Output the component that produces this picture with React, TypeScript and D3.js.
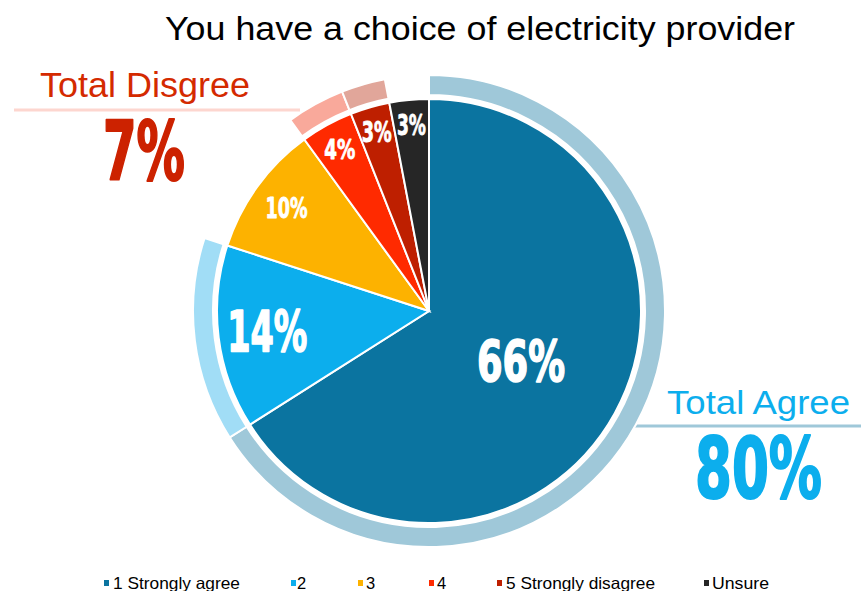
import React from "react";
import * as d3 from "d3";

const categories = ["1 Strongly agree", "2", "3", "4", "5 Strongly disagree", "Unsure"];
const values = [66, 14, 10, 4, 3, 3];
const sliceLabels = ["66%", "14%", "10%", "4%", "3%", "3%"];
const ringGroups = ["agree", "agree", "none", "disagree", "disagree", "none"];
const totals = [
  { name: "Total Disgree", value: "7%" },
  { name: "Total Agree", value: "80%" },
];
const title = "You have a choice of electricity provider";

// styles / layout
const colors = ["#0b74a0", "#0caeed", "#fdb200", "#ff2a00", "#be1f00", "#262626"];
const ringColors = ["#9fc8d9", "#a1ddf6", "none", "#f9a99b", "#e1a69a", "none"];
const labelRadius = [105, 163, 176, 185, 187, 187];
const labelHeight = [41, 42, 21, 20, 21, 21];
const labelWidth = [88, 80, 42, 31, 30, 29];
const legendMarkerX = [104, 291, 358, 429, 497, 704];
const legendTextX = [113, 297, 366, 437, 506, 712];
const legendTextW = [127, 0, 0, 0, 149, 57];

const W = 861;
const H = 591;
const cx = 429;
const cy = 311;
const R = 212;
const ringIn = 216;
const ringOut = 236;

const numFontName = "DejaVu Sans Condensed";
const numFont = "'DejaVu Sans Condensed', 'DejaVu Sans', sans-serif";
const txtFont = "'Liberation Sans', Arial, sans-serif";

let measureCtx: CanvasRenderingContext2D | null = null;
function measure(text: string, size: number): number {
  if (typeof document === "undefined") return text.length * size * 0.6;
  if (!measureCtx) measureCtx = document.createElement("canvas").getContext("2d");
  if (!measureCtx) return text.length * size * 0.6;
  measureCtx.font = `bold ${size}px '${numFontName}', 'DejaVu Sans', sans-serif`;
  return measureCtx.measureText(text).width || text.length * size * 0.6;
}

function NumText(props: {
  x: number;
  y: number;
  w: number;
  h: number;
  fill: string;
  text: string;
  anchor: "start" | "middle";
  weight?: number;
}) {
  const size = props.h / 0.73;
  const natural = measure(props.text, size);
  const sx = props.w / natural;
  return (
    <text
      transform={`translate(${props.x},${props.y}) scale(${sx},1)`}
      textAnchor={props.anchor}
      fontFamily={numFont}
      fontWeight="bold"
      fontSize={size}
      fill={props.fill}
      stroke={props.fill}
      strokeWidth={props.weight ?? 1}
      strokeLinejoin="round"
    >
      {props.text}
    </text>
  );
}

export default function App() {
  const pie = d3.pie<number>().sort(null).value((d) => d)(values);
  const arc = d3.arc<d3.PieArcDatum<number>>().innerRadius(0).outerRadius(R);
  const ringArc = d3
    .arc<d3.PieArcDatum<number>>()
    .innerRadius(ringIn)
    .outerRadius(ringOut);

  return (
    <svg
      width={W}
      height={H}
      style={{ position: "absolute", left: 0, top: 0, background: "#fff" }}
    >
      <text
        x={480}
        y={40}
        textAnchor="middle"
        fontFamily={txtFont}
        fontSize={34}
        fill="#000"
        textLength={630}
        lengthAdjust="spacingAndGlyphs"
      >
        {title}
      </text>

      {/* leader lines */}
      <line x1={14} x2={300} y1={110} y2={110} stroke="#fdd6cf" strokeWidth={3} />
      <line x1={633} x2={861} y1={426} y2={426} stroke="#9fc8d9" strokeWidth={3} />

      <g transform={`translate(${cx},${cy})`}>
        {pie.map((p, i) =>
          ringGroups[i] === "none" ? null : (
            <path
              key={"r" + i}
              d={ringArc(p) || ""}
              fill={ringColors[i]}
              stroke="#fff"
              strokeWidth={2}
            />
          )
        )}
        {pie.map((p, i) => (
          <path
            key={"s" + i}
            d={arc(p) || ""}
            fill={colors[i]}
            stroke="#fff"
            strokeWidth={2}
          />
        ))}
        {pie.map((p, i) => {
          const a = (p.startAngle + p.endAngle) / 2;
          const x = Math.sin(a) * labelRadius[i];
          const y = -Math.cos(a) * labelRadius[i];
          const h = labelHeight[i];
          return (
            <NumText
              key={"l" + i}
              x={x}
              y={y + h / 2}
              w={labelWidth[i]}
              h={h}
              fill="#fff"
              text={sliceLabels[i]}
              anchor="middle"
              weight={h > 30 ? 1.6 : 0.8}
            />
          );
        })}
      </g>

      {/* totals */}
      <text
        x={40}
        y={97}
        fontFamily={txtFont}
        fontSize={35}
        fill="#d42a00"
        textLength={210}
        lengthAdjust="spacingAndGlyphs"
      >
        {totals[0].name}
      </text>
      <NumText x={103} y={180} w={82} h={60} fill="#cc2200" text={totals[0].value} anchor="start" weight={2} />
      <text
        x={667}
        y={414}
        fontFamily={txtFont}
        fontSize={34}
        fill="#0caeed"
        textLength={183}
        lengthAdjust="spacingAndGlyphs"
      >
        {totals[1].name}
      </text>
      <NumText x={695} y={498} w={127} h={61} fill="#0caeed" text={totals[1].value} anchor="start" weight={2} />

      {/* legend */}
      {categories.map((c, i) => (
        <g key={"lg" + i}>
          <rect x={legendMarkerX[i]} y={580} width={5} height={6} fill={colors[i]} />
          <text
            x={legendTextX[i]}
            y={589}
            fontFamily={txtFont}
            fontSize={16.5}
            fill="#000"
            {...(legendTextW[i] > 0
              ? { textLength: legendTextW[i], lengthAdjust: "spacingAndGlyphs" }
              : {})}
          >
            {c}
          </text>
        </g>
      ))}
    </svg>
  );
}
